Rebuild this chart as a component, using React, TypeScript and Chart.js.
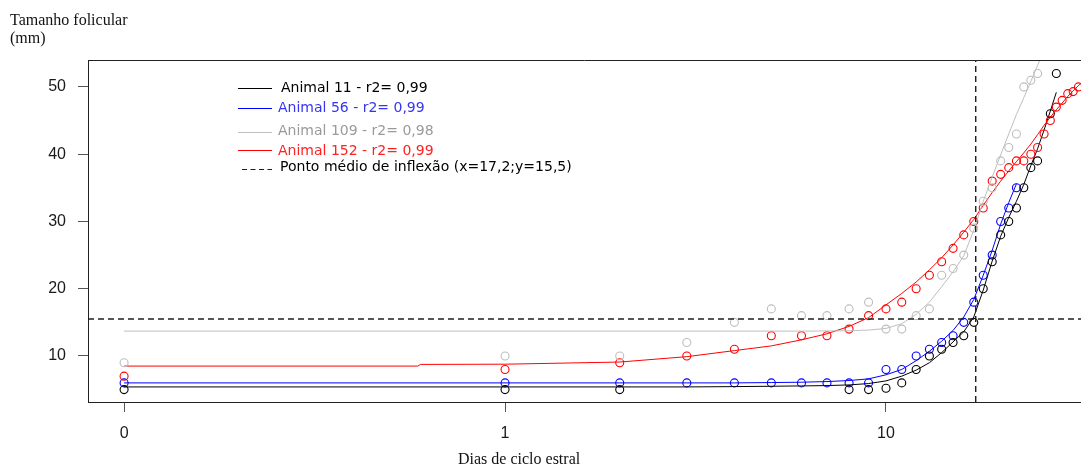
import React, { useEffect, useRef } from 'react';
import { Chart, registerables } from 'chart.js';

Chart.register(...registerables);

// ---- axis ticks ----
const ZERO_POS = 0.1; // day "0" is drawn at 0.1 on the log axis
const xTickDays = [0, 1, 10];
const xTickLabels = ['0', '1', '10'];
const yTickValues = [10, 20, 30, 40, 50];
const xMin = 0.0804;
const xMax = 32.5;
const yMin = 3.16;
const yMax = 54.0;

// ---- observed follicle sizes (mm) ----
const days11 = [0, 1, 2, 8, 9, 10, 11, 12, 13, 14, 15, 16, 17, 18, 19, 20, 21, 22, 23, 24, 25, 27, 28];
const size11 = [5, 5, 5, 5, 5, 5.2, 6, 8, 10, 11, 12, 13, 15, 20, 24, 28, 30, 32, 35, 38, 39, 46, 52];

const days56 = [0, 1, 2, 3, 4, 5, 6, 7, 8, 9, 10, 11, 12, 13, 14, 15, 16, 17, 18, 19, 20, 21, 22];
const size56 = [6, 6, 6, 6, 6, 6, 6, 6, 6, 6, 8, 8, 10, 11, 12, 13, 15, 18, 22, 25, 30, 32, 35];

const days109 = [0, 1, 2, 3, 4, 5, 6, 7, 8, 9, 10, 11, 12, 13, 14, 15, 16, 17, 18, 19, 20, 21, 22, 23, 24, 25];
const size109 = [9, 10, 10, 12, 15, 17, 16, 16, 17, 18, 14, 14, 16, 17, 22, 23, 25, 29, 33, 35, 39, 41, 43, 50, 51, 52];

const days152 = [0, 1, 2, 3, 4, 5, 6, 7, 8, 9, 10, 11, 12, 13, 14, 15, 16, 17, 18, 19, 20, 21, 22, 23, 24, 25, 26, 27, 28, 29, 30, 31, 32];
const size152 = [7, 8, 9, 10, 11, 13, 13, 13, 14, 16, 17, 18, 20, 22, 24, 26, 28, 30, 32, 36, 37, 38, 39, 39, 40, 41, 43, 45, 47, 48, 49, 49.3, 50];

// ---- fitted curves ----
const fitDays11 = [0.1, 1, 2, 3, 4, 5, 6, 7, 8, 9, 10, 11, 12, 13, 14, 15, 16, 17, 18, 19, 20, 21, 22, 23, 24, 25, 26, 27, 28];
const fit11 = [5.4, 5.4, 5.4, 5.4, 5.45, 5.5, 5.55, 5.6, 5.7, 5.9, 6.3, 7.0, 7.9, 9.0, 10.5, 12.1, 13.6, 15.8, 19.8, 24.1, 27.8, 30.6, 33.0, 35.5, 38.3, 40.8, 43.6, 46.4, 49.2];

const fitDays56 = [0.1, 1, 2, 3, 4, 5, 6, 7, 8, 9, 10, 11, 12, 13, 14, 15, 16, 17, 18, 19, 20, 21, 22];
const fit56 = [6.0, 6.0, 6.0, 6.0, 6.0, 6.05, 6.1, 6.2, 6.35, 6.6, 7.2, 8.0, 9.3, 10.7, 12.2, 13.8, 15.8, 18.4, 22.0, 25.7, 29.6, 32.8, 35.6];

const fitDays109 = [0.1, 1, 2, 3, 4, 5, 6, 7, 8, 9, 10, 11, 12, 13, 14, 15, 16, 17, 18, 19, 20, 21, 22, 23, 24, 25, 26];
const fit109 = [13.7, 13.7, 13.7, 13.7, 13.7, 13.7, 13.7, 13.72, 13.75, 13.85, 14.1, 14.8, 16.2, 18.0, 20.3, 22.5, 24.9, 28.7, 33.0, 36.6, 39.9, 43.0, 45.9, 48.4, 50.8, 53.2, 55.5];

const fitDays152 = [0.1, 0.59, 0.6, 1, 2, 3, 4, 5, 6, 7, 8, 9, 10, 11, 12, 13, 14, 15, 16, 17, 18, 19, 20, 21, 22, 23, 24, 25, 26, 27, 28, 29, 30, 31, 32, 32.5];
const fit152 = [8.5, 8.5, 8.75, 8.78, 9.1, 9.9, 10.8, 11.5, 12.4, 13.3, 14.4, 15.7, 17.6, 19.3, 21.0, 22.8, 24.6, 26.5, 28.4, 30.3, 32.4, 34.3, 36.0, 37.5, 38.9, 40.2, 41.5, 42.9, 44.3, 45.5, 46.6, 47.6, 48.6, 49.4, 50.2, 50.5];

// ---- inflection reference ----
const inflectionX = 17.2;
const inflectionY = 15.5;

// ---- legend ----
const legendLabels = [
  'Animal 11 - r2= 0,99',
  'Animal 56 - r2= 0,99',
  'Animal 109 - r2= 0,98',
  'Animal 152 - r2= 0,99',
  'Ponto médio de inflexão (x=17,2;y=15,5)',
];

const BLACK = '#000000';
const BLUE = '#0000ff';
const GRAY = '#bebebe';
const RED = '#ff0000';
const DASH = '#1e1e1e';

const plotX = (d: number) => (d === 0 ? ZERO_POS : d);
const pts = (xs: number[], ys: number[]) => xs.map((d, i) => ({ x: plotX(d), y: ys[i] }));

function pointSet(xs: number[], ys: number[], color: string) {
  return {
    data: pts(xs, ys),
    showLine: false,
    borderColor: color,
    backgroundColor: 'rgba(0,0,0,0)',
    pointRadius: 4,
    pointBorderWidth: 1.1,
    pointStyle: 'circle',
  };
}
function curveSet(xs: number[], ys: number[], color: string) {
  return {
    data: pts(xs, ys),
    showLine: true,
    borderColor: color,
    borderWidth: 1,
    pointRadius: 0,
    tension: 0,
  };
}

const decorPlugin = {
  id: 'decor',
  afterDraw(chart: any) {
    const { ctx, chartArea } = chart;
    ctx.save();
    // top frame line
    ctx.strokeStyle = '#222222';
    ctx.lineWidth = 1;
    ctx.beginPath();
    const ty = Math.round(chartArea.top) + 0.5;
    ctx.moveTo(chartArea.left, ty);
    ctx.lineTo(chartArea.right, ty);
    ctx.stroke();

    // axis titles
    ctx.fillStyle = '#111111';
    ctx.font = '16px "Liberation Serif", "Times New Roman", serif';
    ctx.textAlign = 'left';
    ctx.textBaseline = 'alphabetic';
    ctx.fillText('Tamanho folicular', 10, 25);
    ctx.fillText('(mm)', 10, 43);
    ctx.fillText('Dias de ciclo estral', 458, 464);

    // legend
    const lineColors = [BLACK, BLUE, GRAY, RED, DASH];
    const textColors = ['#000000', '#3535f2', '#9a9a9a', '#ff2222', '#000000'];
    const rowY = [88, 108, 131, 151, 167];
    const lineY = [88, 108, 132, 150, 169];
    const textX = [281, 278, 278, 278, 280];
    ctx.font = '14px "DejaVu Sans", Verdana, sans-serif';
    ctx.textBaseline = 'middle';
    legendLabels.forEach((label, i) => {
      ctx.strokeStyle = lineColors[i];
      ctx.lineWidth = 1;
      ctx.setLineDash(i === 4 ? [5, 3.5] : []);
      ctx.beginPath();
      ctx.moveTo(i === 4 ? 242 : 238, lineY[i] + 0.5);
      ctx.lineTo(272, lineY[i] + 0.5);
      ctx.stroke();
      ctx.fillStyle = textColors[i];
      ctx.fillText(label, textX[i], rowY[i]);
    });
    ctx.setLineDash([]);
    ctx.restore();
  },
};

export default function App() {
  const canvasRef = useRef<HTMLCanvasElement | null>(null);

  useEffect(() => {
    if (!canvasRef.current) return;
    const tickFont = { family: '"Liberation Sans", Arial, sans-serif', size: 16 };
    const chart = new Chart(canvasRef.current, {
      type: 'scatter',
      data: {
        datasets: [
          // inflection reference lines
          {
            data: [{ x: inflectionX, y: yMin }, { x: inflectionX, y: yMax }],
            showLine: true, borderColor: DASH, borderWidth: 1.4, borderDash: [6, 4], pointRadius: 0,
          },
          {
            data: [{ x: xMin, y: inflectionY }, { x: xMax, y: inflectionY }],
            showLine: true, borderColor: DASH, borderWidth: 1.4, borderDash: [6, 4], pointRadius: 0,
          },
          curveSet(fitDays109, fit109, GRAY),
          pointSet(days109, size109, GRAY),
          curveSet(fitDays152, fit152, RED),
          pointSet(days152, size152, RED),
          curveSet(fitDays11, fit11, BLACK),
          pointSet(days11, size11, BLACK),
          curveSet(fitDays56, fit56, BLUE),
          pointSet(days56, size56, BLUE),
        ] as any,
      },
      options: {
        animation: false,
        responsive: true,
        maintainAspectRatio: false,
        layout: { autoPadding: false, padding: { top: 60, right: 0, left: 0, bottom: 0 } },
        plugins: {
          legend: { display: false },
          tooltip: { enabled: false },
          title: { display: false },
        },
        scales: {
          x: {
            type: 'logarithmic',
            position: 'bottom',
            min: xMin,
            max: xMax,
            afterBuildTicks: (scale: any) => {
              scale.ticks = xTickDays.map((d) => ({ value: plotX(d) }));
            },
            afterFit: (scale: any) => {
              scale.height = 66;
              scale.paddingLeft = 0;
              scale.paddingRight = 0;
            },
            ticks: {
              autoSkip: false,
              maxRotation: 0,
              padding: 12,
              color: '#1a1a1a',
              font: tickFont,
              callback: (value: any) => {
                const idx = xTickDays.findIndex((d) => Math.abs(plotX(d) - Number(value)) < 1e-9);
                return idx >= 0 ? xTickLabels[idx] : '';
              },
            },
            grid: { drawOnChartArea: false, drawTicks: true, tickLength: 10, color: '#555555' },
            border: { display: true, color: '#222222', width: 1 },
          },
          y: {
            type: 'linear',
            min: yMin,
            max: yMax,
            afterBuildTicks: (scale: any) => {
              scale.ticks = yTickValues.map((v) => ({ value: v }));
            },
            afterFit: (scale: any) => {
              scale.width = 88;
              scale.paddingTop = 0;
              scale.paddingBottom = 0;
            },
            ticks: {
              padding: 12,
              color: '#1a1a1a',
              font: tickFont,
              callback: (value: any) => String(value),
            },
            grid: { drawOnChartArea: false, drawTicks: true, tickLength: 10, color: '#555555' },
            border: { display: true, color: '#222222', width: 1 },
          },
        },
      } as any,
      plugins: [decorPlugin],
    });
    return () => chart.destroy();
  }, []);

  return (
    <div style={{ position: 'fixed', left: 0, top: 0, width: 1081, height: 468, background: '#ffffff' }}>
      <canvas ref={canvasRef} />
    </div>
  );
}
